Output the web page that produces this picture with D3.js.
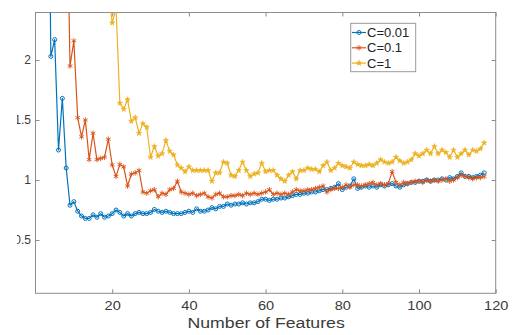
<!DOCTYPE html>
<html><head><meta charset="utf-8">
<script src="https://cdn.jsdelivr.net/npm/d3@7"></script>
<style>html,body{margin:0;padding:0;background:#fff;} svg{display:block;}</style>
</head><body><svg id="chart" width="520" height="335"></svg>
<script>
// ---- data ----
const numFeatures = d3.range(1, 118);
const seriesNames = ["C=0.01", "C=0.1", "C=1"];
const c001 = [null,null,5.0,2.03,2.17,1.25,1.68,1.10,0.79,0.82,
0.74,0.70,0.68,0.68,0.71,0.69,0.72,0.69,0.70,0.72,
0.75,0.73,0.70,0.72,0.70,0.72,0.73,0.72,0.72,0.73,
0.755,0.74,0.73,0.74,0.73,0.72,0.72,0.72,0.73,0.74,
0.73,0.76,0.74,0.74,0.75,0.77,0.76,0.78,0.78,0.80,
0.79,0.80,0.80,0.81,0.80,0.81,0.81,0.82,0.84,0.84,
0.83,0.84,0.84,0.85,0.85,0.86,0.87,0.88,0.88,0.89,
0.89,0.90,0.90,0.91,0.92,0.92,0.93,0.94,0.97,0.92,
0.94,0.95,1.01,0.93,0.94,0.95,0.94,0.95,0.94,0.96,
0.95,0.96,0.97,0.95,0.94,0.96,0.97,0.98,0.98,0.99,
0.99,1.00,0.99,1.00,1.00,1.01,1.00,1.02,1.01,1.03,
1.06,1.03,1.03,1.02,1.03,1.04,1.06];
const c01 = [null,null,null,null,null,null,null,3.8,1.95,2.16,
1.52,1.36,1.50,1.17,1.39,1.17,1.18,1.19,1.34,1.125,
1.03,1.13,1.11,0.95,1.05,1.06,1.08,0.90,0.89,0.91,
0.92,0.86,0.89,0.88,0.92,0.93,0.99,0.90,0.89,0.88,
0.89,0.87,0.88,0.89,0.86,0.85,0.88,0.89,0.86,0.86,
0.87,0.87,0.88,0.87,0.89,0.88,0.89,0.88,0.89,0.90,
0.92,0.88,0.89,0.88,0.89,0.88,0.90,0.92,0.91,0.91,
0.92,0.92,0.93,0.94,0.95,0.90,0.92,0.93,0.93,0.94,
0.96,0.94,0.96,0.96,0.95,0.96,0.97,0.98,0.96,0.97,
0.96,0.97,1.07,0.98,0.96,0.98,0.97,0.98,0.99,0.99,
0.98,1.00,0.99,1.00,0.99,1.00,1.01,0.99,1.00,1.02,
1.04,1.03,1.02,1.01,1.02,1.02,1.03];
const c1 = [null,null,null,null,null,null,null,null,null,null,
null,null,null,null,null,null,null,3.2,2.6,2.31,
2.43,1.64,1.59,1.67,1.49,1.52,1.39,1.47,1.44,1.19,
1.28,1.20,1.22,1.33,1.24,1.21,1.125,1.10,1.07,1.11,
1.08,1.08,1.08,1.08,1.08,0.99,1.06,1.06,1.15,1.14,
1.04,1.03,1.08,1.15,1.08,1.03,1.05,1.06,1.14,1.07,
1.08,1.08,1.04,1.01,0.99,1.04,1.07,1.01,1.08,1.08,
1.10,1.09,1.09,1.07,1.12,1.15,1.08,1.10,1.14,1.12,
1.11,1.10,1.15,1.13,1.12,1.12,1.13,1.12,1.14,1.17,
1.15,1.14,1.15,1.19,1.16,1.14,1.15,1.17,1.22,1.20,
1.22,1.25,1.22,1.28,1.22,1.25,1.23,1.19,1.25,1.19,
1.22,1.25,1.21,1.25,1.24,1.26,1.31];
const xTicks = [20, 40, 60, 80, 100, 120];
const yTicks = [0.5, 1, 1.5, 2];
const xLabel = "Number of Features";

// ---- layout ----
const svg = d3.select("#chart");
const box = {left: 35.5, right: 495.7, top: 12.5, bottom: 293.3};
const x = d3.scaleLinear().domain([0, 120]).range([box.left, box.right]);
const y = d3.scaleLinear().domain([0.056, 2.396]).range([box.bottom, box.top]);
const colors = ["#0072BD", "#D95319", "#EDB120"];
const font = "'Liberation Sans', Arial, Helvetica, sans-serif";
const axisColor = "#8c8c8c";
const textColor = "#3a3a3a";

const defs = svg.append("defs");
defs.append("clipPath").attr("id", "plotclip").append("rect")
  .attr("x", box.left).attr("y", box.top)
  .attr("width", box.right - box.left).attr("height", box.bottom - box.top);
defs.append("clipPath").attr("id", "labelclip").append("rect")
  .attr("x", 17).attr("y", 0).attr("width", 520).attr("height", 335);

// axes
function styleAxis(g) {
  g.select(".domain").remove();
  g.selectAll(".tick line").attr("stroke", axisColor);
  g.selectAll(".tick text").attr("fill", textColor)
    .style("font-family", font).style("font-size", "12px");
}
const xAxisG = svg.append("g").attr("transform", `translate(0,${box.bottom})`)
  .call(d3.axisBottom(x).tickValues(xTicks).tickSizeInner(-4).tickSizeOuter(0).tickPadding(7))
  .call(styleAxis);
xAxisG.selectAll(".tick text").style("font-size", "13px")
  .attr("transform", "scale(1.12,1)");
svg.append("g").attr("transform", `translate(0,${box.top})`)
  .call(d3.axisTop(x).tickValues(xTicks).tickSizeInner(-4).tickSizeOuter(0).tickFormat(""))
  .call(styleAxis);
svg.append("g").attr("clip-path", "url(#labelclip)")
  .append("g").attr("transform", `translate(${box.left},0)`)
  .call(d3.axisLeft(y).tickValues(yTicks).tickSizeInner(-4).tickSizeOuter(0).tickPadding(4.5)
        .tickFormat(d3.format("")))
  .call(styleAxis);
svg.append("g").attr("transform", `translate(${box.right},0)`)
  .call(d3.axisRight(y).tickValues(yTicks).tickSizeInner(-4).tickSizeOuter(0).tickFormat(""))
  .call(styleAxis);

// box
svg.append("rect").attr("x", box.left).attr("y", box.top)
  .attr("width", box.right - box.left).attr("height", box.bottom - box.top)
  .attr("fill", "none").attr("stroke", axisColor).attr("stroke-width", 1);

// x label
svg.append("text")
  .attr("transform", `translate(${(box.left + box.right) / 2 + 0.5},327.5) scale(1.18,1)`)
  .attr("text-anchor", "middle").attr("fill", textColor)
  .style("font-family", font).style("font-size", "15px").text(xLabel);

// series
const seriesValues = [c001, c01, c1];
const markers = [
  (g, c) => g.append("circle").attr("r", 2).attr("fill", "none").attr("stroke", c).attr("stroke-width", 1),
  (g, c) => g.append("path").attr("d", d3.symbol(d3.symbolAsterisk, 20)()).attr("fill", "none").attr("stroke", c).attr("stroke-width", 0.9),
  (g, c) => g.append("path").attr("d", d3.symbol(d3.symbolStar, 9)()).attr("fill", c).attr("stroke", c).attr("stroke-width", 0.6)
];
const plot = svg.append("g").attr("clip-path", "url(#plotclip)");
const line = d3.line().defined(d => d[1] != null).x(d => x(d[0])).y(d => y(d[1]));
seriesValues.forEach((vals, i) => {
  const pts = numFeatures.map((f, k) => [f, vals[k]]);
  const g = plot.append("g");
  g.append("path").datum(pts).attr("d", line).attr("fill", "none")
    .attr("stroke", colors[i]).attr("stroke-width", 1.2).attr("stroke-linejoin", "round");
  pts.filter(d => d[1] != null).forEach(d => {
    const mg = g.append("g").attr("transform", `translate(${x(d[0])},${y(d[1])})`);
    markers[i](mg, colors[i]);
  });
});

// legend
const lg = svg.append("g");
lg.append("rect").attr("x", 350.7).attr("y", 23.3).attr("width", 65).attr("height", 48.4)
  .attr("fill", "#fff").attr("stroke", "#999").attr("stroke-width", 1);
seriesNames.forEach((name, i) => {
  const yy = 32.5 + i * 15.3;
  lg.append("line").attr("x1", 352).attr("x2", 366).attr("y1", yy).attr("y2", yy)
    .attr("stroke", colors[i]).attr("stroke-width", 1.2);
  const mg = lg.append("g").attr("transform", `translate(359,${yy})`);
  markers[i](mg, colors[i]);
  lg.append("text").attr("x", 367).attr("y", yy).attr("dy", "0.36em")
    .attr("fill", "#222").style("font-family", font).style("font-size", "13px").text(name);
});
</script></body></html>
